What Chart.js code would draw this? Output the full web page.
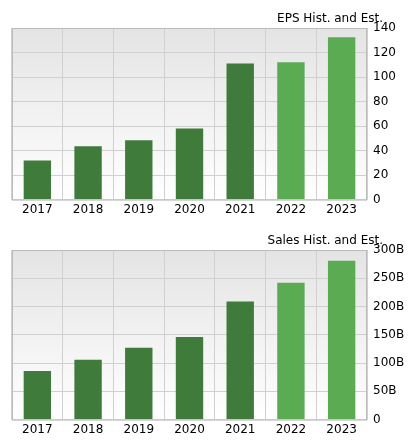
<!DOCTYPE html>
<html><head><meta charset="utf-8">
<script src="https://cdn.jsdelivr.net/npm/chart.js@4"></script>
<style>
body{margin:0;background:#fff;}
.box{position:absolute;left:0;width:413px;height:222px;}
</style></head><body>
<div class="box" style="top:0"><canvas id="c1"></canvas></div>
<div class="box" style="top:222px"><canvas id="c2"></canvas></div>
<script>
const years=['2017','2018','2019','2020','2021','2022','2023'];
const eps=[32,43.5,48.5,58,111,112,132.5];
const sales=[86,106,127,146,209,242,281];
const estimated=[false,false,false,false,false,true,true];
const dark='#3f7b3b', light='#5bab53';
const FONT='"DejaVu Sans", sans-serif';
const bgPlugin={id:'bg',beforeDraw(c){const a=c.chartArea,x=c.ctx;const g=x.createLinearGradient(0,a.top,0,a.bottom);g.addColorStop(0,'#e4e4e4');g.addColorStop(1,'#ffffff');x.save();x.fillStyle=g;x.fillRect(a.left,a.top,a.right-a.left,a.bottom-a.top);x.restore();},
afterDraw(c){const a=c.chartArea,x=c.ctx;x.save();x.strokeStyle='#bbb';x.lineWidth=1;x.strokeRect(a.left+0.5,a.top+0.5,a.right-a.left-1,a.bottom-a.top);x.fillStyle='#000';x.font='12px '+FONT;x.textAlign='right';x.textBaseline='alphabetic';x.fillText(c.options.plugins.ttl,a.right+16,a.top-6);x.restore();}};
function make(id,data,max,step,fmt,title,bottomPad){
 new Chart(document.getElementById(id),{type:'bar',
 data:{labels:years,datasets:[{data:data,backgroundColor:estimated.map(e=>e?light:dark),barPercentage:0.54,categoryPercentage:1}]},
 options:{responsive:true,maintainAspectRatio:false,animation:false,
 layout:{padding:{left:12,top:28,right:0,bottom:bottomPad}},
 plugins:{legend:{display:false},tooltip:{enabled:false},ttl:title},
 scales:{x:{grid:{color:'#d0d0d0',offset:true,drawTicks:false},border:{display:false},ticks:{color:'#000',font:{size:12,family:FONT},padding:3}},
 y:{position:'right',min:0,max:max,afterFit(s){s.width=46;},grid:{color:'#d0d0d0',drawTicks:false},border:{display:false},ticks:{stepSize:step,color:'#000',font:{size:12,family:FONT},padding:6,callback:fmt}}}},
 plugins:[bgPlugin]});
}
make('c1',eps,140,20,v=>v,'EPS Hist. and Est.',2);
make('c2',sales,300,50,v=>v===0?'0':v+'B','Sales Hist. and Est.',4);
</script></body></html>
